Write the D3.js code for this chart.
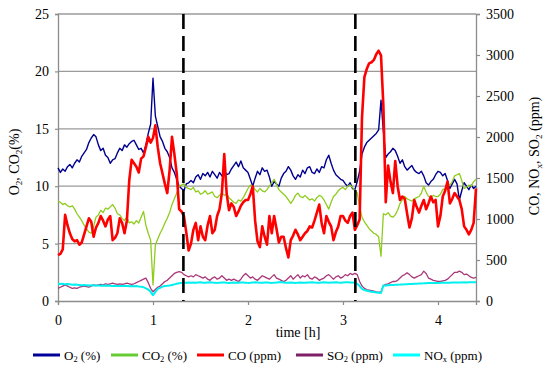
<!DOCTYPE html>
<html><head><meta charset="utf-8">
<script src="https://cdn.jsdelivr.net/npm/d3@7"></script>
<style>body{margin:0;background:#fff}svg{display:block}
svg text{font-family:'Liberation Serif','Times New Roman',serif;}</style>
</head><body>
<svg id="c" width="550" height="370"></svg>
<script>
// ---- data (sampled every 0.025 h) ----
const timeStep = 0.025;
const o2 = [
11.6,11.2,11.5,11.3,11.7,11.9,11.6,12.0,
12.3,12.1,12.6,12.9,13.2,13.8,14.2,14.5,
14.3,13.6,13.1,13.3,12.7,12.5,12.0,12.3,
12.4,12.9,13.3,13.1,13.6,13.4,13.7,13.9,
14.0,13.6,13.2,13.3,12.9,13.6,14.6,15.4,
19.4,16.1,15.2,14.3,13.9,13.3,13.0,12.5,
11.6,11.2,10.6,10.0,9.8,9.6,10.2,10.3,
10.5,10.3,10.8,11.0,10.6,11.1,10.9,11.2,
10.8,11.3,11.0,10.7,11.2,10.9,11.4,11.0,
11.1,11.5,11.8,12.1,11.7,12.2,11.6,11.4,
11.2,10.6,10.0,10.7,11.3,11.0,11.6,11.3,
11.4,10.8,10.0,10.4,10.2,10.0,10.7,11.1,
11.3,11.7,11.4,10.9,10.6,11.0,10.8,11.4,
11.1,11.6,11.7,11.2,11.1,11.5,11.2,11.7,
11.6,12.3,12.7,12.0,11.4,11.0,10.8,10.6,
10.5,10.2,10.0,10.3,9.8,9.7,10.4,11.3,
12.8,13.4,13.8,14.0,14.2,14.4,14.6,14.9,
17.5,14.8,12.5,12.8,13.0,13.3,13.1,12.6,
12.0,12.3,11.7,11.4,11.6,11.8,11.4,11.2,
11.1,11.3,10.9,10.3,10.1,10.4,10.6,11.0,
11.3,11.2,10.9,11.1,10.5,9.8,10.2,10.6,
10.2,8.8,9.6,10.3,10.0,9.7,10.1,9.8,
10.0];
const co2 = [
8.7,8.6,8.4,8.5,8.3,8.2,8.3,8.0,
7.6,7.3,7.0,6.6,6.3,6.0,5.9,6.5,
7.3,7.5,7.9,7.7,8.1,8.0,8.2,8.4,
8.1,7.6,7.5,7.2,7.0,7.3,6.8,6.9,
6.7,7.0,6.8,7.3,7.8,6.6,5.9,5.3,
1.4,4.9,5.4,5.9,6.3,6.8,7.2,7.7,
8.4,8.9,9.4,10.0,10.1,10.2,9.9,9.8,
9.7,9.9,9.5,9.6,9.3,9.4,9.6,9.3,
9.4,9.5,9.1,9.0,9.2,9.4,9.2,9.3,
9.0,8.8,8.6,8.5,8.8,8.7,9.0,9.4,
9.8,10.1,10.0,9.7,9.5,9.8,9.6,9.5,
9.7,10.0,10.3,10.6,10.2,9.7,9.5,9.3,
9.1,8.8,8.5,8.8,9.2,9.4,9.1,9.0,
9.2,9.0,8.8,8.9,8.7,9.0,9.2,9.1,
8.8,8.4,8.0,8.6,9.1,9.3,9.6,9.8,
9.9,9.7,10.0,10.1,9.9,9.6,9.4,8.2,
7.3,6.9,6.6,6.3,6.1,5.9,5.8,5.6,
3.9,7.6,7.5,7.7,7.4,7.3,7.5,7.9,
8.5,8.8,9.1,8.9,8.8,8.7,8.9,9.0,
9.1,9.4,10.0,9.5,9.1,9.0,9.2,9.1,
9.1,9.3,9.7,9.8,9.9,10.1,10.4,10.9,
11.0,11.1,10.5,9.8,9.9,10.1,10.0,10.4,
10.6];
const co = [
560,574,630,1050,924,826,756,728,
742,686,714,812,910,1008,966,784,
896,952,1036,980,910,994,1036,742,
770,826,1008,952,826,980,1470,1722,
1680,1638,1568,1736,1764,1876,2002,1932,
1988,2142,1876,1680,1554,1428,1316,1596,
2002,1792,1554,1120,1092,1036,840,616,
700,868,952,742,910,784,742,924,
1036,826,868,1036,1120,1316,1792,1316,
1106,1190,1148,1036,1092,1162,1204,1232,
1232,1302,1400,980,728,658,910,784,
686,1036,826,1036,882,714,784,784,
644,532,742,798,868,812,742,784,
826,854,910,896,980,1078,1176,952,
826,1036,966,910,742,840,910,1036,
1036,980,952,1036,1078,868,924,994,
2240,2730,2828,2898,2912,2940,3010,3052,
2996,2380,1204,1652,1456,1316,1708,1400,
1232,1274,1246,1064,896,1008,1232,1148,
1078,1162,1232,1120,1190,1274,1204,1232,
910,1036,1274,1344,1456,1190,1246,1316,
1274,1232,1120,910,868,812,868,952,
1372];
const so2 = [
154,168,182,196,182,168,154,161,
154,168,175,182,175,168,182,196,
189,196,203,196,210,203,210,217,
210,203,210,203,210,217,210,203,
210,224,238,252,266,280,224,154,
112,140,168,182,210,238,252,280,
308,336,350,357,350,322,308,294,
308,294,322,308,294,280,294,266,
252,280,294,266,280,308,280,252,
266,252,266,252,238,266,308,336,
308,280,294,266,252,280,308,294,
280,266,294,322,280,266,252,238,
252,280,308,266,294,322,280,308,
294,322,280,266,294,280,252,266,
280,308,322,294,266,294,308,280,
294,322,308,336,322,336,322,238,
182,154,140,133,126,119,112,109,
112,189,203,210,224,238,238,252,
280,308,322,343,322,294,280,294,
308,322,364,336,280,266,252,245,
238,238,245,252,266,294,322,350,
350,364,350,322,329,308,287,280,
287];
const nox = [
210,207,210,203,206,203,199,202,
199,196,193,196,193,190,193,189,
190,189,186,189,185,188,185,182,
185,182,183,182,185,182,179,182,
179,182,178,175,168,154,140,112,
70,112,147,161,175,182,185,189,
196,203,210,217,221,224,224,227,
224,226,222,225,228,224,222,226,
229,225,223,221,224,227,225,222,
220,223,226,224,222,225,227,224,
221,223,226,228,225,222,224,227,
225,223,221,224,226,229,231,227,
224,222,225,223,221,224,226,224,
222,225,227,229,226,224,222,225,
228,226,223,225,227,229,226,224,
226,228,230,227,225,224,210,182,
147,133,126,119,112,109,105,101,
98,189,190,192,194,196,197,199,
200,202,203,205,207,208,210,211,
213,214,215,217,218,219,220,221,
221,222,223,224,222,224,225,226,
226,227,225,228,227,229,228,230,
229];
const xTicks = [0, 1, 2, 3, 4];
const leftTicks = [0, 5, 10, 15, 20, 25];
const rightTicks = [0, 500, 1000, 1500, 2000, 2500, 3000, 3500];
const phaseBounds = [1.32, 3.13];

// ---- layout ----
const svg = d3.select('#c');
const L = 58, R = 476, T = 14, B = 301;
const x = d3.scaleLinear().domain([0, 4.4]).range([L, R]);
const yL = d3.scaleLinear().domain([0, 25]).range([B, T]);
const yR = d3.scaleLinear().domain([0, 3500]).range([B, T]);

// gridlines
svg.append('g').selectAll('line').data(leftTicks.filter(d => d > 0)).join('line')
  .attr('x1', L).attr('x2', R).attr('y1', d => yL(d)).attr('y2', d => yL(d))
  .attr('stroke', '#9a9a9a').attr('stroke-width', 1.3);

function styleAxis(g) {
  g.attr('font-family', null);
  g.selectAll('path.domain').attr('stroke', '#8c8c8c').attr('stroke-width', 1.3);
  g.selectAll('.tick line').attr('stroke', '#8c8c8c').attr('stroke-width', 1.2);
  g.selectAll('.tick text').attr('font-size', 14).attr('fill', '#000');
}
const gx = svg.append('g').attr('transform', `translate(0,${B})`)
  .call(d3.axisBottom(x).tickValues(xTicks).tickFormat(d3.format('d')).tickSizeOuter(0).tickSize(4).tickPadding(10));
styleAxis(gx);
const gl = svg.append('g').attr('transform', `translate(${L},0)`)
  .call(d3.axisLeft(yL).tickValues(leftTicks).tickFormat(d3.format('d')).tickSizeOuter(0).tickSize(3).tickPadding(6));
styleAxis(gl);
const gr = svg.append('g').attr('transform', `translate(${R},0)`)
  .call(d3.axisRight(yR).tickValues(rightTicks).tickFormat(d3.format('d')).tickSizeOuter(0).tickSize(4).tickPadding(6));
styleAxis(gr);

// series
const series = [
  {data: o2, y: yL, color: '#00008f', w: 1.4},
  {data: co2, y: yL, color: '#8fcc1c', w: 1.3},
  {data: co, y: yR, color: '#ff0000', w: 2.6},
  {data: so2, y: yR, color: '#a8387a', w: 1.3},
  {data: nox, y: yR, color: '#00f0f0', w: 2.0}
];
series.forEach(s => {
  const line = d3.line().x((d, i) => x(i * timeStep)).y(d => s.y(d));
  svg.append('path').datum(s.data).attr('d', line)
    .attr('fill', 'none').attr('stroke', s.color).attr('stroke-width', s.w)
    .attr('stroke-linejoin', 'round');
});

// phase boundaries
svg.append('g').selectAll('line').data(phaseBounds).join('line')
  .attr('x1', d => x(d)).attr('x2', d => x(d)).attr('y1', T).attr('y2', B)
  .attr('stroke', '#000').attr('stroke-width', 2.6).attr('stroke-dasharray', '15,7');

// text helper with subscripts
function rich(g, parts, size) {
  g.attr('font-size', size);
  const shift = size * 0.22;
  let wasSub = false;
  parts.forEach(p => {
    if (typeof p === 'string') {
      g.append('tspan').attr('dy', wasSub ? -shift : 0).text(p);
      wasSub = false;
    } else {
      g.append('tspan').attr('font-size', size * 0.65).attr('dy', shift).text(p.sub);
      wasSub = true;
    }
  });
  return g;
}

// axis titles
rich(svg.append('text').attr('text-anchor', 'middle')
  .attr('transform', 'translate(19,162) rotate(-90)'), ['O', {sub: '2'}, ', CO', {sub: '2'}, '(%)'], 14);
rich(svg.append('text').attr('text-anchor', 'middle')
  .attr('transform', 'translate(539,156) rotate(-90)'), ['CO, NO', {sub: 'x'}, ', SO', {sub: '2'}, ' (ppm)'], 14);
svg.append('text').attr('font-size', 14).attr('text-anchor', 'middle')
  .attr('x', 298).attr('y', 337).text('time [h]');

// legend
const legendItems = [
  {color: '#000099', x: 33, parts: ['O', {sub: '2'}, ' (%)']},
  {color: '#66cc33', x: 111, parts: ['CO', {sub: '2'}, ' (%)']},
  {color: '#ff0000', x: 197, parts: ['CO (ppm)']},
  {color: '#7f1f66', x: 296, parts: ['SO', {sub: '2'}, ' (ppm)']},
  {color: '#00ffff', x: 393, parts: ['NO', {sub: 'x'}, ' (ppm)']}
];
const lg = svg.append('g');
legendItems.forEach(it => {
  lg.append('line').attr('x1', it.x).attr('x2', it.x + 27).attr('y1', 355).attr('y2', 355)
    .attr('stroke', it.color).attr('stroke-width', 3);
  rich(lg.append('text').attr('x', it.x + 31).attr('y', 359.5), it.parts, 13);
});
</script>
</body></html>
